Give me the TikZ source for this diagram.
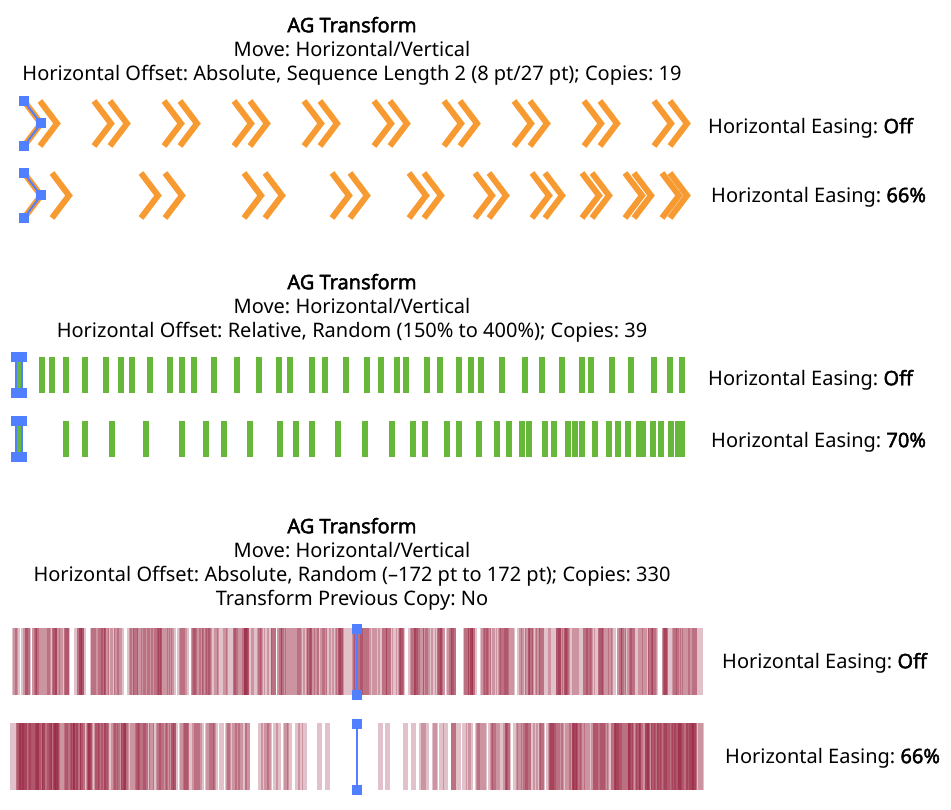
\documentclass[tikz,border=0pt]{standalone}
\usepackage{fontspec}
\setmainfont{Noto Sans}[BoldFont={Noto Sans},BoldFeatures={FakeBold=2.2}]
\frenchspacing
\definecolor{chevorange}{RGB}{248,154,50}
\definecolor{bargreen}{RGB}{102,183,58}
\definecolor{barred}{RGB}{140,10,42}
\definecolor{selblue}{RGB}{80,128,255}
\tikzset{
	chev/.style={draw=chevorange,line width=6pt,line join=miter},
	gbar/.style={fill=bargreen},
	rbar/.style={fill=barred,fill opacity=0.25},
	handle/.style={rectangle,fill=selblue,inner sep=0pt,minimum size=10pt},
	selline/.style={draw=selblue,line width=2pt},
	caption/.style={align=center,inner sep=0pt,font=\fontsize{20}{24}\selectfont},
	easelabel/.style={anchor=west,inner sep=0pt,font=\fontsize{20}{24}\selectfont}
}

\begin{document}
\begin{tikzpicture}[x=1pt,y=-1pt]
	\useasboundingbox (0,0) rectangle (951,810);

	% captions
	\node [caption] (capA) at (352,51) {\textbf{AG Transform}\\Move: Horizontal/Vertical\\Horizontal Offset: Absolute, Sequence Length 2 (8 pt/27 pt); Copies: 19};
	\node [caption] (capB) at (352,308) {\textbf{AG Transform}\\Move: Horizontal/Vertical\\Horizontal Offset: Relative, Random (150\% to 400\%); Copies: 39};
	\node [caption] (capC) at (352,564) {\textbf{AG Transform}\\Move: Horizontal/Vertical\\Horizontal Offset: Absolute, Random (–172 pt to 172 pt); Copies: 330\\Transform Previous Copy: No};

	\node [easelabel] (easeA) at (708,128) {Horizontal Easing: \textbf{Off}};
	\node [easelabel] (easeB) at (711,197) {Horizontal Easing: \textbf{66\%}};
	\node [easelabel] (easeC) at (708,380) {Horizontal Easing: \textbf{Off}};
	\node [easelabel] (easeD) at (711,442) {Horizontal Easing: \textbf{70\%}};
	\node [easelabel] (easeE) at (722,663) {Horizontal Easing: \textbf{Off}};
	\node [easelabel] (easeF) at (725,758) {Horizontal Easing: \textbf{66\%}};

	% chevrons, no easing
	\foreach \cx in {24,94,...,654} {
		\draw [chev] (\cx,101) -- ({\cx+17},123.5) -- (\cx,146);
		\draw [chev] ({\cx+16},101) -- ({\cx+33},123.5) -- ({\cx+16},146);
	}
	% chevrons, eased
	\foreach \cx in {24,52,141,165,244,265,332,350,409,424,475,489,532,545,582,592,625,634,662,670}
		\draw [chev] (\cx,173) -- ({\cx+17},195.5) -- (\cx,218);

	\node [handle] (hA1) at (24,101) {};
	\node [handle] (hA2) at (41,123.5) {};
	\node [handle] (hA3) at (24,146) {};
	\draw [selline] (hA1.center) -- (hA2.center) -- (hA3.center);
	\node [handle] (hB1) at (24,173) {};
	\node [handle] (hB2) at (41,195.5) {};
	\node [handle] (hB3) at (24,218) {};
	\draw [selline] (hB1.center) -- (hB2.center) -- (hB3.center);

	% green bars
	\foreach \bx in {16,39,49,63,82,103,118,129,147,167,179,191,211,234,256,276,287,309,322,343,364,378,394,403,424,437,456,468,478,499,522,539,559,579,588,609,628,651,667,679}
		\fill [gbar] (\bx,357) rectangle ({\bx+6},393);
	\foreach \bx in {16,63,82,109,143,179,203,221,247,277,293,309,335,362,389,410,422,444,456,476,494,506,519,526,542,551,565,572,579,592,606,615,625,636,640,650,658,668,675,679}
		\fill [gbar] (\bx,421) rectangle ({\bx+6},457);

	\draw [selline,line width=1.5pt] (16,357) rectangle (22,393);
	\node [handle] (hC1) at (16,357) {};
	\node [handle] (hC2) at (22,357) {};
	\node [handle] (hC3) at (16,393) {};
	\node [handle] (hC4) at (22,393) {};
	\draw [selline,line width=1.5pt] (16,421) rectangle (22,457);
	\node [handle] (hD1) at (16,421) {};
	\node [handle] (hD2) at (22,421) {};
	\node [handle] (hD3) at (16,457) {};
	\node [handle] (hD4) at (22,457) {};

	% red bars
	\pgfmathsetseed{2024}
	\foreach \i in {0,...,330} {
		\pgfmathsetmacro\bx{14+(\i+0.5)/331*686+7*rand}
		\fill [rbar] ({\bx-2.5},628) rectangle ({\bx+2.5},695);
	}
	\foreach \i in {0,...,330} {
		\pgfmathsetmacro\u{-1+2*(\i+0.5)/331+0.015*rand}
		\pgfmathsetmacro\bx{357+343*sign(\u)*sqrt(abs(\u))}
		\fill [rbar] ({\bx-2.5},723) rectangle ({\bx+2.5},790);
	}

	\node [handle] (hE1) at (357,629) {};
	\node [handle] (hE2) at (357,695) {};
	\draw [selline,line width=2.5pt] (hE1.center) -- (hE2.center);
	\node [handle] (hF1) at (357,724) {};
	\node [handle] (hF2) at (357,790) {};
	\draw [selline,line width=2.5pt] (hF1.center) -- (hF2.center);
\end{tikzpicture}
\end{document}
